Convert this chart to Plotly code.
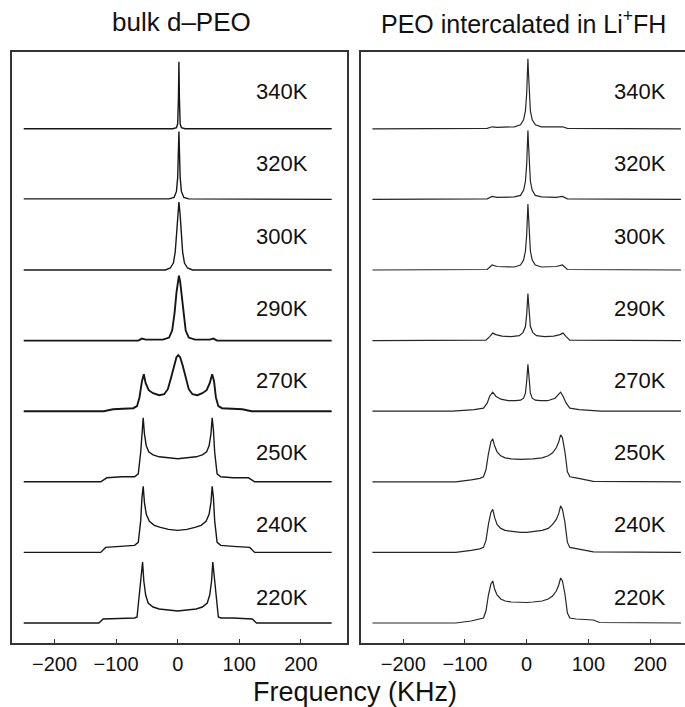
import plotly.graph_objects as go

# Temperatures, bottom to top of each stack
temps = ["220K", "240K", "250K", "270K", "290K", "300K", "320K", "340K"]

# ---- bulk d-PEO spectra: frequency (kHz) and intensity (arb. units) ----
bulk_220_khz = [-250, -128, -121, -90, -70, -66, -62, -59, -57, -55, -52, -48, -40, -30, -15, 0,
                15, 30, 40, 48, 52, 55, 57, 59, 62, 66, 70, 90, 121, 128, 250]
bulk_220_amp = [0, 0, 4, 5, 5, 6, 28, 50, 61, 42, 28, 20, 16, 14, 13, 12,
                13, 14, 16, 20, 28, 42, 61, 50, 28, 6, 5, 5, 4, 0, 0]

bulk_240_khz = [-250, -125, -117, -90, -70, -64, -60, -58, -56, -54, -51, -46, -38, -28, -15, 0,
                15, 28, 38, 46, 51, 54, 56, 58, 60, 64, 70, 90, 117, 125, 250]
bulk_240_amp = [0, 0, 5, 6, 7, 10, 32, 55, 66, 50, 38, 31, 27, 25, 23, 22,
                23, 25, 27, 31, 38, 50, 66, 55, 32, 10, 7, 6, 5, 0, 0]

bulk_250_khz = [-250, -125, -115, -90, -70, -64, -60, -58, -56, -54, -51, -47, -40, -30, -15, 0,
                15, 30, 40, 47, 51, 54, 56, 58, 60, 64, 70, 90, 115, 125, 250]
bulk_250_amp = [0, 0, 4, 5, 5, 8, 30, 52, 64, 48, 36, 30, 27, 25, 24, 23,
                24, 25, 27, 30, 36, 48, 64, 52, 30, 8, 5, 4, 4, 0, 0]

bulk_270_khz = [-250, -120, -105, -72, -66, -62, -58, -55, -52, -47, -40, -30, -22, -16, -11, -6,
                -2, 1, 4, 8, 13, 18, 24, 32, 40, 47, 52, 56, 59, 62, 66, 72, 105, 120, 250]
bulk_270_amp = [0, 0, 2, 3, 5, 14, 30, 37, 28, 21, 18, 16, 17, 22, 33, 46,
                54, 56, 54, 46, 33, 22, 17, 16, 18, 21, 28, 37, 30, 14, 5, 3, 2, 0, 0]

bulk_290_khz = [-250, -64, -58, -52, -24, -14, -9, -5, -2, 0, 2, 4, 6, 9, 13, 18, 28,
                52, 58, 64, 250]
bulk_290_amp = [0, 0, 2, 1, 1, 3, 10, 28, 48, 59, 65, 59, 48, 28, 10, 3, 1,
                1, 2, 0, 0]

bulk_300_khz = [-250, -20, -12, -7, -4, -2, 0, 2, 4, 6, 8, 11, 16, 24, 250]
bulk_300_amp = [0, 0, 2, 7, 18, 35, 55, 68, 55, 35, 18, 7, 2, 0, 0]

bulk_320_khz = [-250, -14, -6, -2, 0, 1, 2, 3, 4, 6, 10, 18, 250]
bulk_320_amp = [0.5, 0.5, 2, 8, 22, 45, 68, 45, 22, 8, 2, 0.5, 0]

bulk_340_khz = [-250, -8, -2, 0, 1.2, 2, 2.8, 4, 6, 12, 250]
bulk_340_amp = [0, 0, 1, 5, 30, 67, 30, 5, 1, 0, 0]

# ---- PEO intercalated in Li+FH ----
inter_220_khz = [-250, -115, -90, -80, -70, -66, -62, -58, -55, -52, -48, -42, -35, -25, -10, 0,
                 10, 25, 35, 42, 48, 52, 55, 58, 62, 66, 70, 80, 108, 118, 250]
inter_220_amp = [0, 0, 2, 3.5, 5, 12, 28, 39, 42, 34, 28, 24, 22, 21, 20.5, 20.5,
                 21, 22, 24, 27, 32, 38, 45, 42, 29, 10, 5, 4, 3, 0.5, 0]

inter_240_khz = [-250, -115, -90, -76, -70, -66, -62, -58, -55, -52, -48, -42, -35, -25, -10, 0,
                 10, 25, 35, 42, 48, 52, 55, 58, 62, 66, 70, 80, 108, 250]
inter_240_amp = [0, 0, 2, 3.5, 5, 12, 28, 40, 43, 35, 28, 24, 22, 21, 20, 20,
                 20.5, 22, 24, 28, 33, 39, 46.5, 43, 30, 10, 5, 4, 0.5, 0]

inter_250_khz = [-250, -115, -90, -76, -70, -66, -62, -58, -55, -52, -48, -42, -35, -25, -10, 0,
                 10, 25, 35, 42, 48, 52, 55, 58, 62, 66, 70, 80, 108, 250]
inter_250_amp = [0, 0, 2, 3.5, 5, 12, 28, 40, 43, 36, 30, 26, 24, 23, 22.5, 22.5,
                 23, 24, 26, 29, 34, 40, 47, 44, 30, 10, 5, 4, 0.5, 0]

inter_270_khz = [-250, -120, -85, -70, -64, -60, -55, -50, -42, -30, -18, -10, -5, -2, 0, 1,
                 2, 3, 4, 6, 9, 14, 22, 34, 46, 51, 55, 59, 64, 70, 85, 120, 250]
inter_270_amp = [0, 0, 1.5, 3, 8, 15, 19, 15, 12, 10.5, 10.5, 11, 13, 18, 30, 40,
                 47, 40, 30, 18, 13, 11, 10.5, 10.5, 13, 16, 19, 15, 8, 3, 1.5, 0, 0]

inter_290_khz = [-250, -66, -60, -55, -50, -40, -25, -12, -6, -2, 0, 1, 2, 3, 4, 6, 10, 16, 29,
                 44, 54, 59, 64, 70, 250]
inter_290_amp = [0, 0.5, 4, 7.5, 6, 4.5, 4, 5, 8, 14, 26, 38, 47, 38, 26, 14, 8, 5, 4,
                 4.5, 6, 7.5, 4, 0.5, 0]

inter_300_khz = [-250, -64, -56, -48, -20, -10, -5, -2, 0, 1, 2, 3, 4, 6, 9, 14, 24, 48, 58, 66, 250]
inter_300_amp = [0, 0.5, 5, 3.5, 3, 5, 10, 19, 35, 54, 66, 54, 35, 19, 10, 5, 3, 3.5, 5, 0.5, 0]

inter_320_khz = [-250, -64, -56, -48, -20, -10, -5, -2, 0, 1, 2, 3, 4, 6, 9, 14, 24, 48, 58, 66, 250]
inter_320_amp = [0, 0.5, 3, 2, 2.5, 4, 9, 18, 35, 55, 69, 55, 35, 18, 9, 4, 2.5, 2, 3, 0.5, 0]

inter_340_khz = [-250, -64, -56, -48, -20, -10, -5, -2, 0, 1, 2, 3, 4, 6, 9, 14, 24, 48, 58, 66, 250]
inter_340_amp = [0, 0.5, 2, 1.5, 2, 4, 9, 18, 35, 55, 70, 55, 35, 18, 9, 4, 2, 1.5, 2, 0.5, 0]

freq_ticks = [-200, -100, 0, 100, 200]

bulk_spectra = [(bulk_220_khz, bulk_220_amp), (bulk_240_khz, bulk_240_amp),
                (bulk_250_khz, bulk_250_amp), (bulk_270_khz, bulk_270_amp),
                (bulk_290_khz, bulk_290_amp), (bulk_300_khz, bulk_300_amp),
                (bulk_320_khz, bulk_320_amp), (bulk_340_khz, bulk_340_amp)]
inter_spectra = [(inter_220_khz, inter_220_amp), (inter_240_khz, inter_240_amp),
                 (inter_250_khz, inter_250_amp), (inter_270_khz, inter_270_amp),
                 (inter_290_khz, inter_290_amp), (inter_300_khz, inter_300_amp),
                 (inter_320_khz, inter_320_amp), (inter_340_khz, inter_340_amp)]

# stacking layout
W, H = 685, 707
BASE0, STEP = 20.0, 70.6          # baseline of lowest trace and vertical spacing
LABEL0, LSTEP = 46.0, 72.2        # temperature label positions
FONT = "Liberation Sans, Arial, Helvetica, sans-serif"
INK = "#161616"
TXT = "#111111"

fig = go.Figure()

for k, (xs, ys) in enumerate(bulk_spectra):
    off = BASE0 + STEP * k
    fig.add_trace(go.Scatter(x=xs, y=[v + off for v in ys], mode="lines",
                             line=dict(color=INK, width=1.9 if temps[k] in ("270K", "290K") else 1.4),
                             xaxis="x", yaxis="y", showlegend=False, hoverinfo="skip"))
for k, (xs, ys) in enumerate(inter_spectra):
    off = BASE0 + STEP * k
    fig.add_trace(go.Scatter(x=xs, y=[v + off for v in ys], mode="lines",
                             line=dict(color="#262626", width=1.2),
                             xaxis="x2", yaxis="y2", showlegend=False, hoverinfo="skip"))

annotations = []
for k, t in enumerate(temps):
    ly = LABEL0 + LSTEP * k
    for xr, yr, xpos in (("x", "y", 170), ("x2", "y2", 184)):
        annotations.append(dict(x=xpos, y=ly, xref=xr, yref=yr, text=t, showarrow=False,
                                xanchor="center", yanchor="middle",
                                font=dict(family=FONT, size=22, color=TXT)))

annotations += [
    dict(x=181 / W, y=1 - 22 / H, xref="paper", yref="paper", text="bulk d\u2013PEO",
         xanchor="center", yanchor="middle",
         showarrow=False, font=dict(family=FONT, size=26, color=TXT)),
    dict(x=523 / W, y=1 - 22 / H, xref="paper", yref="paper",
         text="PEO intercalated in Li<sup>+</sup>FH", xanchor="center", yanchor="middle",
         showarrow=False, font=dict(family=FONT, size=25, color=TXT)),
    dict(x=355 / W, y=1 - 692 / H, xref="paper", yref="paper", text="Frequency (KHz)",
         xanchor="center", yanchor="middle",
         showarrow=False, font=dict(family=FONT, size=27, color=TXT)),
]

ydom = [(H - 643) / H, (H - 52) / H]
xcommon = dict(tickvals=freq_ticks, ticks="inside", ticklen=4, tickcolor="#333",
               tickfont=dict(family=FONT, size=20, color=TXT), showgrid=False,
               zeroline=False, showline=True, linecolor="#333", linewidth=1.5,
               ticklabelstandoff=2)
ycommon = dict(range=[0, 591], showticklabels=False, ticks="", showgrid=False,
               zeroline=False, showline=True, linecolor="#333", linewidth=1.5, domain=ydom)

fig.update_layout(
    width=W, height=H,
    margin=dict(l=0, r=0, t=0, b=0),
    paper_bgcolor="white", plot_bgcolor="white",
    xaxis=dict(domain=[11.7 / W, 346.7 / W], range=[-269.5, 274.4], mirror=True, **xcommon),
    yaxis=dict(mirror=True, **ycommon),
    xaxis2=dict(domain=[360.7 / W, 1.0], range=[-269, 256.6], mirror=True, anchor="y2", **xcommon),
    yaxis2=dict(mirror=False, anchor="x2", **ycommon),
    annotations=annotations,
)

fig.write_html("out.html")
